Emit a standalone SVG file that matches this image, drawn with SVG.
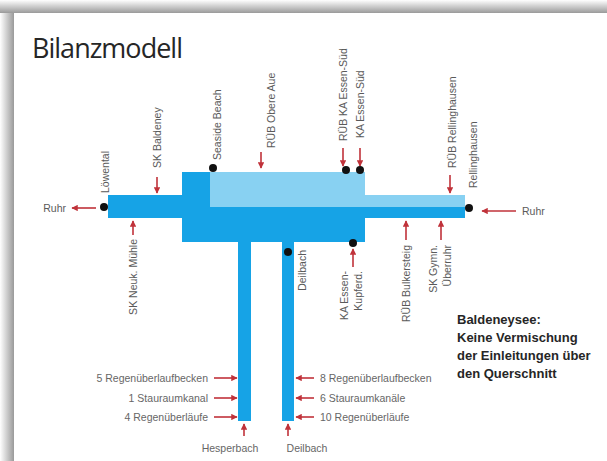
<svg xmlns="http://www.w3.org/2000/svg" width="607" height="461" viewBox="0 0 607 461">
<defs>
<linearGradient id="gl" x1="0" y1="0" x2="1" y2="0"><stop offset="0" stop-color="#ffffff"/><stop offset="1" stop-color="#9a9a9a"/></linearGradient>
<linearGradient id="gt" x1="0" y1="0" x2="0" y2="1"><stop offset="0" stop-color="#ffffff"/><stop offset="1" stop-color="#9a9a9a"/></linearGradient>
<marker id="ah" viewBox="0 0 10 10" refX="9" refY="5" markerWidth="4" markerHeight="4" orient="auto"><path d="M0,0 L10,5 L0,10 Z" fill="#c0323a"/></marker>
<style>
.lbl{font-family:"Liberation Sans",Arial,sans-serif;font-size:10.5px;fill:#5a5a5a}
.blbl{font-family:"Liberation Sans",Arial,sans-serif;font-size:10.5px;fill:#666}
.note{font-family:"Liberation Sans",Arial,sans-serif;font-size:13px;font-weight:bold;fill:#262626}
.arr{stroke:#c0323a;stroke-width:1.6;fill:none;marker-end:url(#ah)}
.dot{fill:#111}
</style>
</defs>
<rect width="607" height="461" fill="#fff"/>
<rect x="0" y="0" width="14" height="461" fill="url(#gl)"/>
<rect x="0" y="0" width="607" height="13" fill="url(#gt)"/>
<rect x="14" y="13" width="593" height="448" fill="#fff"/>
<text x="32" y="58" font-family="'Open Sans','Liberation Sans',sans-serif" font-size="27" fill="#262626" textLength="151">Bilanzmodell</text>

<g id="river">
<path d="M108,195 H182 V172 H210 V207 H465 V218 H365 V242 H294 V421 H282 V242 H251 V421 H238 V242 H182 V218 H108 Z" fill="#16a3e6"/>
<path d="M210,172 H365 V195 H465 V207 H210 Z" fill="#88d1f2"/>
</g>

<g id="connectors">
<line class="arr" x1="96" y1="208" x2="72" y2="208"/>
<line class="arr" x1="516" y1="211" x2="482" y2="211"/>
<line class="arr" x1="157" y1="177" x2="157" y2="193"/>
<line class="arr" x1="261" y1="152" x2="261" y2="168"/>
<line class="arr" x1="343" y1="148" x2="343" y2="166"/>
<line class="arr" x1="360" y1="148" x2="360" y2="166"/>
<line class="arr" x1="450" y1="175" x2="450" y2="193"/>
<line class="arr" x1="133" y1="235" x2="133" y2="221"/>
<line class="arr" x1="353" y1="267" x2="353" y2="249"/>
<line class="arr" x1="406" y1="240" x2="406" y2="221"/>
<line class="arr" x1="441" y1="240" x2="441" y2="221"/>
<line class="arr" x1="214" y1="378" x2="237" y2="378"/>
<line class="arr" x1="214" y1="398" x2="237" y2="398"/>
<line class="arr" x1="214" y1="417" x2="237" y2="417"/>
<line class="arr" x1="314" y1="378" x2="296" y2="378"/>
<line class="arr" x1="314" y1="398" x2="296" y2="398"/>
<line class="arr" x1="314" y1="417" x2="296" y2="417"/>
<line class="arr" x1="244" y1="436" x2="244" y2="424"/>
<line class="arr" x1="288" y1="436" x2="288" y2="424"/>
</g>

<g id="ruhr-out"><text class="lbl" x="66" y="212" text-anchor="end">Ruhr</text></g>
<g id="ruhr-in"><text class="lbl" x="522" y="215">Ruhr</text></g>
<g id="loewental"><circle class="dot" cx="104" cy="207" r="4"/><text class="lbl" transform="translate(109,193) rotate(-90)">Löwental</text></g>
<g id="sk-baldeney"><text class="lbl" transform="translate(161,168) rotate(-90)">SK Baldeney</text></g>
<g id="seaside-beach"><circle class="dot" cx="213" cy="168" r="4"/><text class="lbl" transform="translate(221,160) rotate(-90)">Seaside Beach</text></g>
<g id="rueb-obere-aue"><text class="lbl" transform="translate(275,148) rotate(-90)">RÜB Obere Aue</text></g>
<g id="rueb-ka-essen-sued"><circle class="dot" cx="346" cy="170" r="4"/><text class="lbl" transform="translate(347,141) rotate(-90)">RÜB KA Essen-Süd</text></g>
<g id="ka-essen-sued"><circle class="dot" cx="360" cy="170" r="4"/><text class="lbl" transform="translate(364,138) rotate(-90)">KA Essen-Süd</text></g>
<g id="rueb-rellinghausen"><text class="lbl" transform="translate(456,168) rotate(-90)">RÜB Rellinghausen</text></g>
<g id="rellinghausen"><circle class="dot" cx="469" cy="208" r="4"/><text class="lbl" transform="translate(477,188) rotate(-90)">Rellinghausen</text></g>
<g id="sk-neuk-muehle"><text class="lbl" transform="translate(137,239) rotate(-90)" text-anchor="end">SK Neuk. Mühle</text></g>
<g id="deilbach-mouth"><circle class="dot" cx="288" cy="252" r="4"/><text class="lbl" transform="translate(306,250) rotate(-90)" text-anchor="end">Deilbach</text></g>
<g id="ka-essen-kupferdreh"><circle class="dot" cx="353" cy="243" r="4"/><text class="lbl" transform="translate(348,271) rotate(-90)" text-anchor="end">KA Essen-</text><text class="lbl" transform="translate(362,271) rotate(-90)" text-anchor="end">Kupferd.</text></g>
<g id="rueb-bulkersteig"><text class="lbl" transform="translate(410,245) rotate(-90)" text-anchor="end">RÜB Bulkersteig</text></g>
<g id="sk-gymn-ueberruhr"><text class="lbl" transform="translate(437,245) rotate(-90)" text-anchor="end">SK Gymn.</text><text class="lbl" transform="translate(451,245) rotate(-90)" text-anchor="end">Überruhr</text></g>

<g id="hesperbach-inflows">
<text class="blbl" x="208" y="382" text-anchor="end">5 Regenüberlaufbecken</text>
<text class="blbl" x="208" y="402" text-anchor="end">1 Stauraumkanal</text>
<text class="blbl" x="208" y="421" text-anchor="end">4 Regenüberläufe</text>
</g>
<g id="deilbach-inflows">
<text class="blbl" x="320" y="382">8 Regenüberlaufbecken</text>
<text class="blbl" x="320" y="402">6 Stauraumkanäle</text>
<text class="blbl" x="320" y="421">10 Regenüberläufe</text>
</g>
<g id="hesperbach"><text class="blbl" x="230" y="452" text-anchor="middle">Hesperbach</text></g>
<g id="deilbach"><text class="blbl" x="307" y="452" text-anchor="middle">Deilbach</text></g>

<g id="note">
<text class="note" x="457" y="324">Baldeneysee:</text>
<text class="note" x="457" y="342">Keine Vermischung</text>
<text class="note" x="457" y="360">der Einleitungen über</text>
<text class="note" x="457" y="378">den Querschnitt</text>
</g>
</svg>
